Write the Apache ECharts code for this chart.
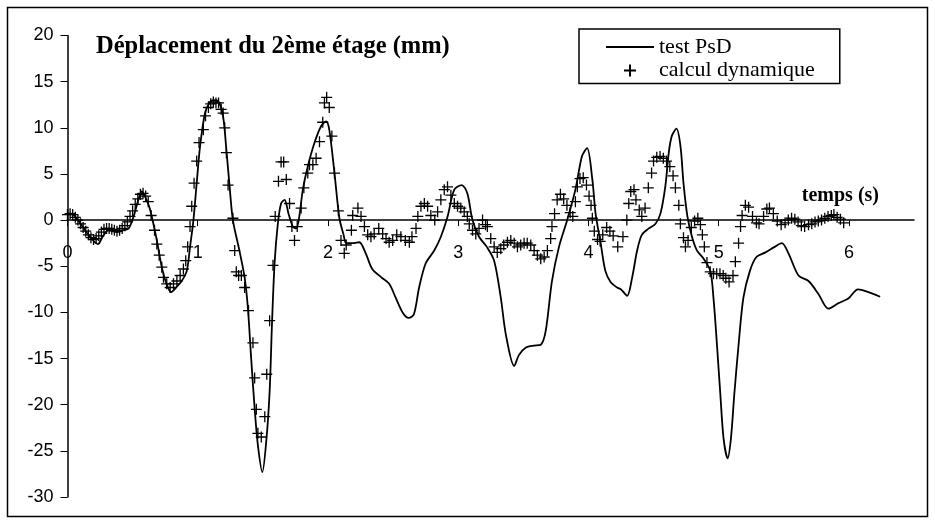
<!DOCTYPE html>
<html>
<head>
<meta charset="utf-8">
<script src="https://cdn.jsdelivr.net/npm/echarts@6/dist/echarts.min.js"></script>
<style>
html,body{margin:0;padding:0;background:#fff;}
#c{width:935px;height:524px;}
</style>
</head>
<body>
<div id="c"></div>
<script>
// ---- data ----
var titleText = 'Déplacement du 2ème étage (mm)';
var xAxisName = 'temps (s)';
var seriesNames = ['test PsD', 'calcul dynamique'];
var xTicks = [0, 1, 2, 3, 4, 5, 6];

// test PsD (line): time (s) and displacement (mm)
var psdT = [0.00,0.03,0.08,0.15,0.234,0.27,0.315,0.38,0.43,0.47,0.507,0.54,0.571,0.60,0.635,0.686,0.724,0.76,0.796,0.84,0.877,0.916,0.941,0.967,0.992,1.018,1.056,1.09,1.12,1.156,1.194,1.22,1.245,1.27,1.32,1.36,1.385,1.41,1.437,1.462,1.496,1.526,1.552,1.57,1.59,1.615,1.64,1.667,1.697,1.73,1.756,1.78,1.807,1.845,1.897,1.948,1.986,2.01,2.05,2.088,2.12,2.14,2.19,2.24,2.29,2.34,2.41,2.47,2.52,2.573,2.62,2.66,2.70,2.75,2.816,2.867,2.918,2.97,3.028,3.07,3.11,3.16,3.22,3.276,3.327,3.366,3.43,3.467,3.52,3.58,3.634,3.672,3.72,3.774,3.837,3.90,3.95,3.99,4.03,4.055,4.094,4.13,4.17,4.22,4.25,4.297,4.336,4.374,4.41,4.464,4.515,4.553,4.59,4.617,4.64,4.676,4.707,4.73,4.76,4.795,4.834,4.885,4.936,4.96,4.987,5.013,5.038,5.069,5.094,5.12,5.153,5.19,5.24,5.29,5.36,5.43,5.485,5.536,5.613,5.69,5.766,5.843,5.92,5.996,6.07,6.15,6.24];
var psdD = [0.7,0.7,0.0,-1.4,-2.6,-1.8,-1.1,-1.3,-1.1,-0.9,0.36,2.0,3.1,2.4,1.1,-2.2,-5.1,-6.9,-7.8,-7.2,-6.6,-5.5,-2.9,0,4.0,8.0,11.6,12.7,13.0,12.9,11.3,7.6,3.6,0,-3.3,-6.2,-9.5,-14.9,-20.4,-24.4,-27.3,-24.0,-18.6,-11.3,-4.7,-0.4,1.8,2.2,0.7,-0.7,-0.9,0.4,3.3,5.8,8.4,10.2,10.7,9.8,5.1,0.2,-1.6,-2.5,-2.5,-2.4,-3.6,-5.3,-6.2,-6.9,-8.4,-10.0,-10.6,-10.2,-7.3,-4.7,-3.3,-1.8,0.36,3.3,3.8,2.9,0,-1.8,-2.9,-4.4,-8.4,-12.4,-15.8,-14.6,-13.8,-13.6,-13.5,-12.0,-6.6,-2.9,0,3.3,6.9,7.8,4.4,0.7,-2.5,-5.5,-6.7,-7.3,-7.5,-8.2,-6.2,-3.3,-1.6,-0.9,-0.4,0.7,3.6,7.3,9.1,9.9,8.0,4.0,0.4,-1.8,-3.3,-4.2,-5.5,-8.4,-13.5,-18.9,-23.7,-25.8,-23.7,-18.9,-13.5,-8.4,-5.5,-4.0,-3.5,-2.9,-2.5,-3.6,-6.0,-6.6,-8.0,-9.6,-9.0,-8.5,-7.5,-7.8,-8.3];

// calcul dynamique (+ markers): time (s) and displacement (mm)
var calcT = [0.00,0.02,0.04,0.06,0.08,0.10,0.12,0.14,0.16,0.18,0.20,0.22,0.24,0.26,0.28,0.30,0.32,0.34,0.36,0.38,0.40,0.42,0.44,0.46,0.48,0.50,0.52,0.54,0.56,0.58,0.60,0.62,
0.642,0.668,0.686,0.704,0.724,0.737,0.762,0.788,0.814,0.84,0.865,0.89,0.908,0.923,0.941,0.954,0.972,0.992,1.01,1.043,1.06,1.082,1.10,1.12,1.14,1.16,1.18,1.195,1.207,1.22,1.233,
1.27,1.284,1.296,1.314,1.335,1.36,1.39,1.424,1.437,1.45,1.462,1.488,1.515,1.53,1.552,1.578,1.595,
1.62,1.64,1.66,1.68,1.705,1.723,1.743,1.764,1.794,1.815,1.845,1.858,1.884,1.909,1.935,1.96,1.973,1.99,2.01,2.03,2.05,2.08,2.10,2.125,2.14,
2.18,2.19,2.23,2.254,2.28,2.305,2.33,2.355,2.39,2.42,2.446,2.47,2.497,2.528,2.56,2.594,2.625,2.645,2.676,2.69,2.714,2.74,2.765,2.79,2.82,2.842,2.867,2.893,2.918,2.944,2.97,2.995,3.02,3.046,3.07,3.085,3.11,3.135,3.16,3.187,3.21,3.224,3.25,3.276,3.30,3.327,3.35,3.378,3.404,3.43,3.455,3.48,3.506,3.53,3.557,3.583,3.608,3.634,3.66,3.685,3.71,
3.72,3.74,3.76,3.785,3.81,3.835,3.86,3.88,3.90,3.915,3.935,3.96,3.985,4.005,4.02,4.03,4.045,4.07,4.09,4.11,4.14,4.165,4.19,4.225,4.265,4.295,4.31,4.325,4.35,4.365,4.39,4.41,4.435,4.46,4.485,4.50,4.525,4.55,4.575,4.60,4.625,4.65,4.668,4.694,4.706,4.73,4.745,4.765,4.79,4.815,4.84,4.86,4.875,4.89,4.91,4.935,4.96,4.985,5.01,5.035,5.055,5.08,5.11,5.128,5.153,5.168,5.18,5.205,5.23,5.26,5.29,5.31,5.345,5.37,5.39,5.42,5.45,5.48,5.51,5.535,5.56,5.585,5.61,5.635,5.66,5.69,5.715,5.74,5.765,5.79,5.815,5.84,5.865,5.885,5.91,5.935,5.96];
var calcD = [0.6,0.7,0.6,0.3,0.0,-0.4,-0.8,-1.2,-1.6,-1.9,-2.1,-2.0,-1.7,-1.3,-1.0,-0.9,-0.9,-1.0,-1.1,-1.2,-1.1,-0.9,-0.6,-0.2,0.4,1.0,1.7,2.3,2.8,2.9,2.6,2.0,
0.5,-1.1,-2.6,-3.8,-5.1,-6.2,-6.9,-7.3,-6.9,-6.6,-6.0,-5.3,-4.4,-2.9,-0.7,1.5,4.0,6.4,8.4,9.8,11.3,12.2,12.6,12.8,12.7,12.7,12.0,11.6,10.0,7.3,3.8,
0.2,-3.3,-5.6,-6.0,-6.0,-7.3,-9.8,-13.3,-17.1,-20.5,-23.1,-23.5,-21.3,-16.7,-10.9,-4.9,0.4,
4.2,6.3,6.3,4.4,1.8,-0.7,-2.2,-0.7,1.3,3.5,5.1,6.0,6.0,6.7,8.5,10.6,12.7,13.3,12.2,9.1,5.1,1.0,-2.2,-3.6,-2.7,
-1.1,0.5,1.3,0.4,-0.7,-1.6,-1.8,-1.5,-0.9,-1.5,-2.0,-2.4,-2.2,-1.6,-1.8,-2.2,-2.4,-1.8,-0.9,0.4,1.5,1.8,1.5,0.5,0,0.9,2.2,3.3,3.6,2.7,1.8,1.5,1.3,0.9,0.4,-0.4,-1.1,-1.5,-0.9,0,-0.5,-0.7,-2.0,-2.9,-3.5,-3.1,-2.7,-2.4,-2.2,-2.5,-2.9,-2.7,-2.5,-2.5,-2.7,-3.3,-3.8,-4.2,-4.0,-3.3,-2.0,
-0.7,0.7,2.2,2.8,2.3,1.6,0.8,0.4,2.0,3.6,4.5,4.6,3.8,2.6,1.6,0.2,-1.2,-2.1,-2.3,-1.6,-0.8,-1.2,-1.7,-2.9,-1.8,0,1.8,3.1,3.3,2.2,1.1,0.4,1.3,3.5,5.1,6.4,6.8,6.9,6.7,6.4,5.8,4.8,3.5,1.6,-0.4,-1.9,-2.9,-2.2,-0.8,-0.1,0.2,-0.5,-1.6,-2.9,-4.6,-5.6,-5.8,-5.8,-5.8,-6.0,-6.3,-6.7,-6.0,-4.5,-2.5,-0.7,0.5,1.6,1.4,0.4,-0.3,-0.4,0.4,1.2,1.3,0.7,-0.1,-0.5,-0.3,0,0.2,0.1,-0.2,-0.6,-0.7,-0.5,-0.4,-0.2,-0.1,0,0.2,0.4,0.5,0.6,0.3,0.1,-0.3];

// ---- build chart ----
var psdData = psdT.map(function (t, i) { return [t, psdD[i]]; });
var calcData = calcT.map(function (t, i) { return [t, calcD[i]]; });
var plusPath = 'path://M5 0L5 10M0 5L10 5';
var sans = '"Liberation Sans", Arial, sans-serif';
var serif = '"Liberation Serif", "Times New Roman", serif';

var gridTop = 35.5, gridBottom = 27, yMin = -30, yMax = 20;
var plotH = 524 - gridTop - gridBottom;
var zeroOffset = -plotH * (0 - yMin) / (yMax - yMin); // lift x axis onto y = 0

var chart = echarts.init(document.getElementById('c'), null, {renderer: 'canvas'});
chart.setOption({
  animation: false,
  backgroundColor: '#fff',
  title: {
    text: titleText,
    left: 91, top: 29,
    textStyle: {fontFamily: serif, fontWeight: 'bold', fontSize: 24.5, color: '#000'}
  },
  legend: {
    orient: 'vertical',
    left: 579, top: 29,
    borderColor: '#000', borderWidth: 1.5,
    padding: [7, 25, 2, 26],
    itemWidth: 48, itemHeight: 12, itemGap: 1.4,
    textStyle: {fontFamily: serif, fontSize: 22, color: '#000', lineHeight: 22},
    data: [
      {name: seriesNames[0], itemStyle: {opacity: 0}},
      {name: seriesNames[1], icon: plusPath}
    ]
  },
  graphic: [{
    type: 'rect', silent: true,
    shape: {x: 7.5, y: 7.5, width: 920, height: 509},
    style: {fill: 'none', stroke: '#000', lineWidth: 1.5}
  }],
  grid: {left: 67.5, right: 21, top: gridTop, bottom: gridBottom, containLabel: false, outerBoundsMode: 'none'},
  xAxis: {
    type: 'value', min: 0, max: 6.5, interval: 1,
    position: 'bottom', offset: zeroOffset,
    name: xAxisName, nameLocation: 'end', nameGap: -35,
    nameTextStyle: {fontFamily: serif, fontWeight: 'bold', fontSize: 20, color: '#000', align: 'right', verticalAlign: 'bottom', padding: [0, 0, 14, 0]},
    axisLine: {onZero: false, lineStyle: {color: '#000', width: 1.5}},
    axisTick: {show: true, length: 6, customValues: xTicks, lineStyle: {color: '#000', width: 1}},
    axisLabel: {customValues: xTicks, margin: 24, fontFamily: sans, fontSize: 18, color: '#000'},
    splitLine: {show: false}
  },
  yAxis: {
    type: 'value', min: yMin, max: yMax, interval: 5,
    axisLine: {show: true, lineStyle: {color: '#000', width: 1.5}},
    axisTick: {show: true, length: 7, lineStyle: {color: '#000', width: 1}},
    axisLabel: {margin: 14, fontFamily: sans, fontSize: 18, color: '#000'},
    splitLine: {show: false}
  },
  series: [
    {
      name: seriesNames[0], type: 'line', data: psdData,
      showSymbol: false, symbol: 'none', smooth: 0.3,
      lineStyle: {color: '#000', width: 1.8},
      itemStyle: {color: '#000'},
      z: 3
    },
    {
      name: seriesNames[1], type: 'scatter', data: calcData,
      symbol: plusPath, symbolSize: 11,
      itemStyle: {color: '#000', borderColor: '#000', borderWidth: 1.3, opacity: 1},
      z: 2
    }
  ]
});
</script>
</body>
</html>
